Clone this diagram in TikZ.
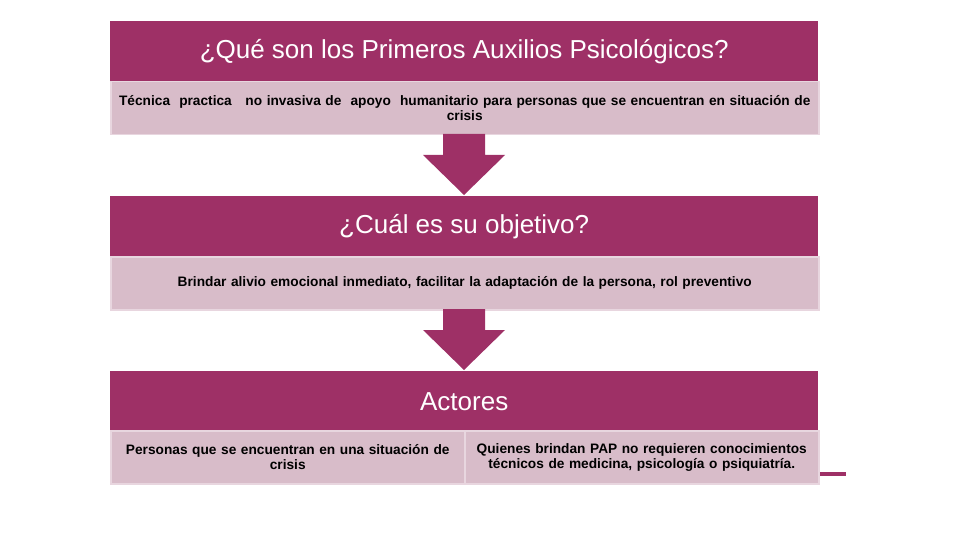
\documentclass[tikz,border=0pt]{standalone}
\usepackage{fontspec}
\setmainfont{Liberation Sans}
\definecolor{dark}{RGB}{158,48,102}
\definecolor{light}{RGB}{216,188,201}
\definecolor{lightedge}{RGB}{232,214,223}
\begin{document}
\hyphenpenalty=10000
\exhyphenpenalty=10000
\begin{tikzpicture}[x=1pt,y=-1pt,
  head/.style={fill=dark, draw=none, minimum width=708pt, minimum height=60pt, inner sep=0pt, text=white, font=\fontsize{26}{29}\selectfont},
  body/.style={fill=light, draw=lightedge, line width=1.5pt, minimum height=53pt, inner sep=2pt, align=center, font=\bfseries\fontsize{13.7}{15}\selectfont},
  arrowshape/.style={fill=dark, draw=none}]
\useasboundingbox (0,0) rectangle (960,540);
% Box 1
\node[head, anchor=north west] (h1) at (110,21) {¿Qué son los Primeros Auxilios Psicológicos?};
\node[body, minimum width=708pt, text width=704pt, anchor=north west] (b1) at (110,81) {Técnica\ \ practica\ \ \ no invasiva de\ \ apoyo\ \ humanitario para personas que se encuentran en situación de\\ crisis};
% Arrow 1
\fill[arrowshape] (443,134) -- (485,134) -- (485,155) -- (505,155) -- (464,195) -- (423,155) -- (443,155) -- cycle;
% Box 2
\node[head, anchor=north west] (h2) at (110,196) {¿Cuál es su objetivo?};
\node[body, minimum width=708pt, text width=704pt, anchor=north west] (b2) at (110,256) {Brindar alivio emocional inmediato, facilitar la adaptación de la persona, rol preventivo};
% Arrow 2
\fill[arrowshape] (443,309) -- (485,309) -- (485,330) -- (505,330) -- (464,370) -- (423,330) -- (443,330) -- cycle;
% Box 3
\node[head, anchor=north west] (h3) at (110,371) {Actores};
\node[body, minimum width=354pt, text width=346pt, anchor=north west] (b3a) at (110,430) {Personas que se encuentran en una situación de\\ crisis};
\node[body, minimum width=354pt, text width=348pt, anchor=north west] (b3b) at (464,430) {Quienes brindan PAP no requieren conocimientos\\ técnicos de medicina, psicología o psiquiatría.};
\fill[dark] (820,472) rectangle (846,476);
\end{tikzpicture}
\end{document}
